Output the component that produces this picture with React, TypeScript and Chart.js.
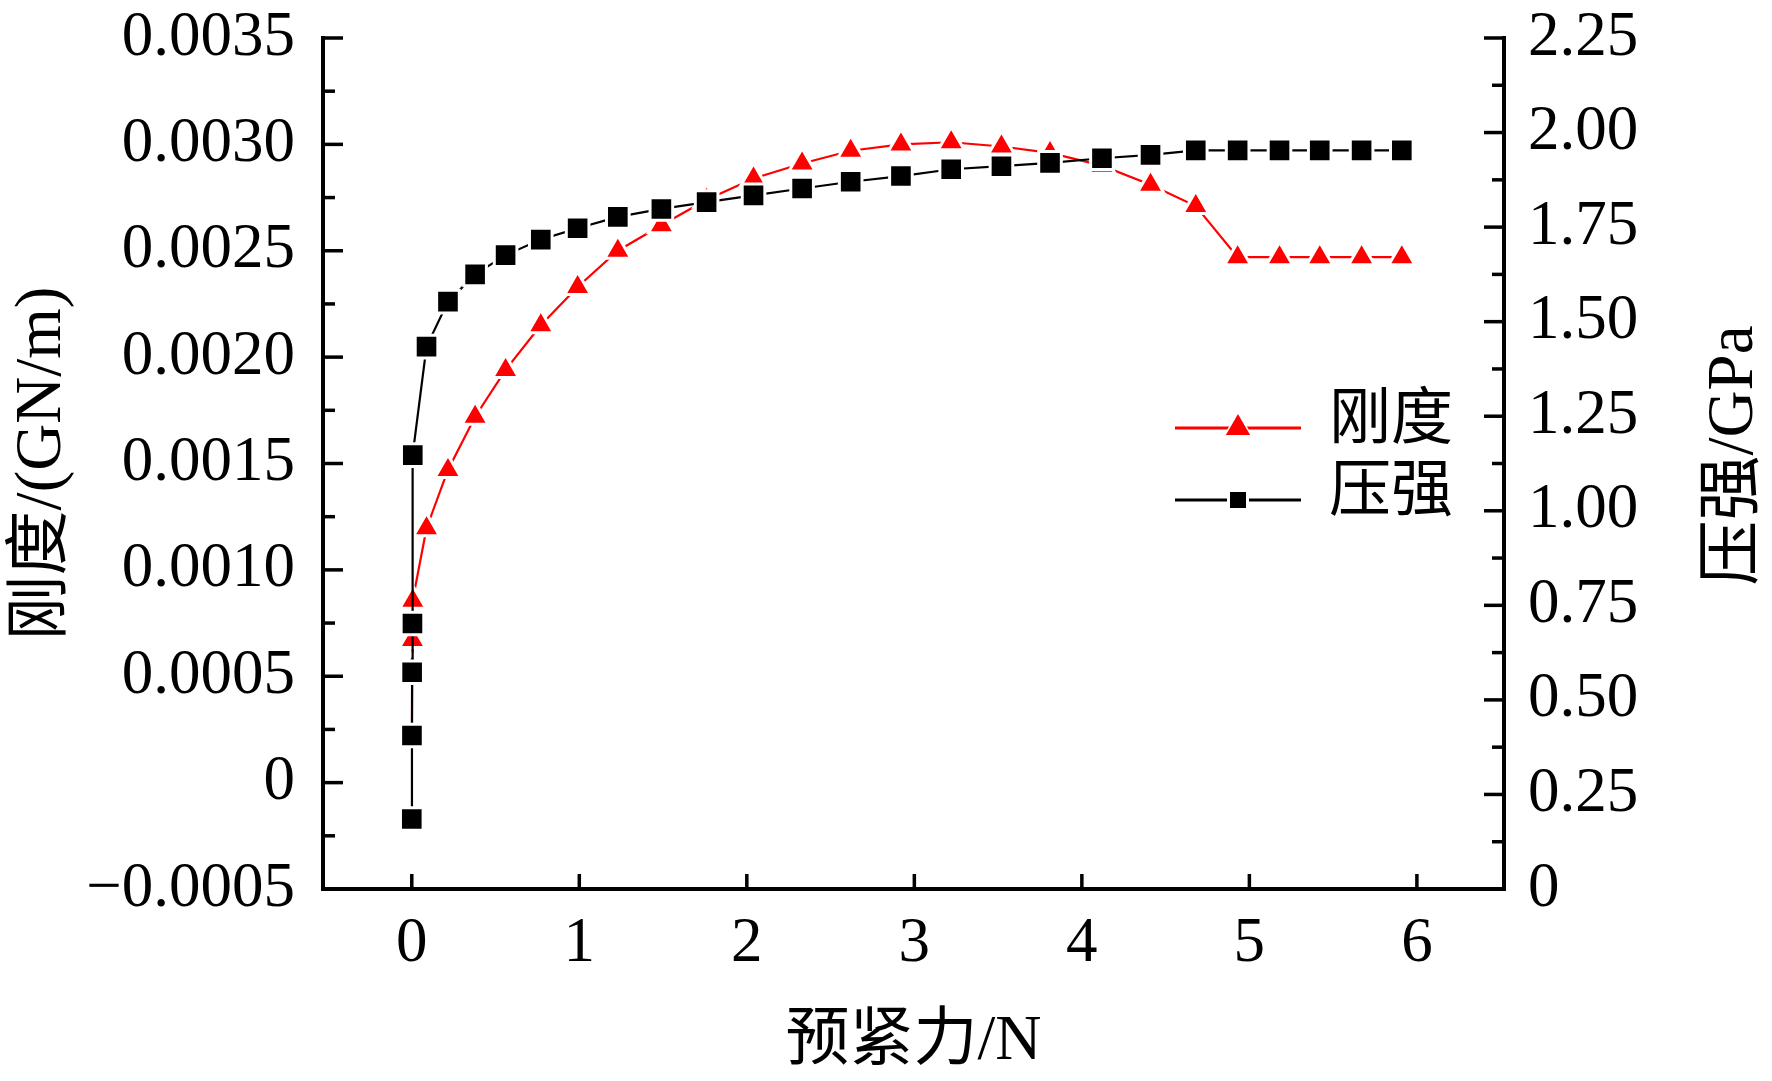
import React, { useEffect, useRef } from "react";
import { Chart, registerables } from "chart.js";

Chart.register(...registerables);

// preload force (N) on the x axis
const forceN = [
  0, 0.001, 0.002, 0.004, 0.006, 0.088, 0.216, 0.378, 0.56, 0.77, 0.99, 1.23, 1.49, 1.76, 2.04,
  2.33, 2.62, 2.92, 3.22, 3.52, 3.81, 4.12, 4.41, 4.68, 4.93, 5.18, 5.42, 5.67, 5.91,
];
// 刚度 (GN/m), left axis
const stiffness = [
  null, 0.000207, 0.000537, 0.00067, 0.000855, 0.001196, 0.00147, 0.00172, 0.00194, 0.00215,
  0.00233, 0.0025, 0.00262, 0.00274, 0.00284, 0.00291, 0.00297, 0.003, 0.00301, 0.00299,
  0.00296, 0.0029, 0.00281, 0.00271, 0.00247, 0.00247, 0.00247, 0.00247, 0.00247,
];
// 压强 (GPa), right axis
const pressure = [
  0.185, 0.406, 0.573, 0.702, 1.147, 1.434, 1.553, 1.625, 1.676, 1.717, 1.747, 1.777, 1.798,
  1.816, 1.834, 1.852, 1.87, 1.885, 1.903, 1.911, 1.92, 1.932, 1.941, 1.953, 1.953, 1.953,
  1.953, 1.953, 1.953,
];

const xTicks = [0, 1, 2, 3, 4, 5, 6];
const stiffnessTicks = [-0.0005, 0, 0.0005, 0.001, 0.0015, 0.002, 0.0025, 0.003, 0.0035];
const pressureTicks = [0, 0.25, 0.5, 0.75, 1, 1.25, 1.5, 1.75, 2, 2.25];

const SERIF = "'Liberation Serif', 'Times New Roman', 'Noto Sans CJK SC', serif";

const fmtStiff = (v: number) => (Math.abs(v) < 1e-12 ? "0" : (v < 0 ? "\u2212" : "") + Math.abs(v).toFixed(4));
const fmtPress = (v: number) => (Math.abs(v) < 1e-12 ? "0" : v.toFixed(2));

// inward major/minor ticks, the open axis frame and the right-hand title
const axisFrame = {
  id: "axisFrame",
  afterDraw(chart: any) {
    const { ctx, chartArea: a, scales } = chart;
    const line = (x1: number, y1: number, x2: number, y2: number) => {
      ctx.beginPath();
      ctx.moveTo(x1, y1);
      ctx.lineTo(x2, y2);
      ctx.stroke();
    };
    ctx.save();
    ctx.strokeStyle = "#000";
    ctx.lineWidth = 3.5;
    stiffnessTicks.forEach((v, i) => {
      const p = scales.y.getPixelForValue(v);
      line(a.left, p, a.left + 20, p);
      if (i < stiffnessTicks.length - 1) {
        const m = scales.y.getPixelForValue((v + stiffnessTicks[i + 1]) / 2);
        line(a.left, m, a.left + 12, m);
      }
    });
    pressureTicks.forEach((v, i) => {
      const p = scales.y1.getPixelForValue(v);
      line(a.right, p, a.right - 20, p);
      if (i < pressureTicks.length - 1) {
        const m = scales.y1.getPixelForValue((v + pressureTicks[i + 1]) / 2);
        line(a.right, m, a.right - 12, m);
      }
    });
    xTicks.forEach((v) => {
      const p = scales.x.getPixelForValue(v);
      line(p, a.bottom, p, a.bottom - 15);
    });
    ctx.lineWidth = 4;
    ctx.lineCap = "square";
    ctx.lineJoin = "miter";
    ctx.beginPath();
    ctx.moveTo(a.left, a.top);
    ctx.lineTo(a.left, a.bottom);
    ctx.lineTo(a.right, a.bottom);
    ctx.lineTo(a.right, a.top);
    ctx.stroke();

    ctx.fillStyle = "#000";
    ctx.font = `65px ${SERIF}`;
    ctx.textAlign = "center";
    ctx.textBaseline = "middle";
    ctx.translate(chart.width - 37, (a.top + a.bottom) / 2 - 8);
    ctx.rotate(-Math.PI / 2);
    ctx.fillText("压强/GPa", 0, 0);
    ctx.restore();
  },
};

const drawMarker = (ctx: any, style: string, x: number, y: number, r: number) => {
  ctx.beginPath();
  if (style === "triangle") {
    ctx.moveTo(x, y - r);
    ctx.lineTo(x + r * 0.866, y + r / 2);
    ctx.lineTo(x - r * 0.866, y + r / 2);
    ctx.closePath();
  } else {
    ctx.rect(x - r, y - r, 2 * r, 2 * r);
  }
  ctx.fill();
};

// legend inside the plot, to the right
const insideLegend = {
  id: "insideLegend",
  afterDraw(chart: any) {
    const { ctx } = chart;
    const rows = [
      { ds: chart.data.datasets[0], y: 428, size: 14 },
      { ds: chart.data.datasets[1], y: 500, size: 8 },
    ];
    ctx.save();
    rows.forEach(({ ds, y, size }) => {
      ctx.strokeStyle = ds.borderColor;
      ctx.lineWidth = 3;
      ctx.beginPath();
      ctx.moveTo(1175, y);
      ctx.lineTo(1301, y);
      ctx.stroke();
      ctx.fillStyle = "#fff";
      drawMarker(ctx, ds.pointStyle, 1238, y, size + 3);
      ctx.fillStyle = ds.borderColor;
      drawMarker(ctx, ds.pointStyle, 1238, y, size);
      ctx.fillStyle = "#000";
      ctx.font = `62px ${SERIF}`;
      ctx.textAlign = "left";
      ctx.textBaseline = "middle";
      ctx.fillText(ds.label, 1329, y - 5);
    });
    ctx.restore();
  },
};

const noPad = (s: any) => {
  s.paddingTop = 0;
  s.paddingBottom = 0;
  s.paddingLeft = 0;
  s.paddingRight = 0;
};

const StiffnessPressureChart = () => {
  const chartRef = useRef<HTMLCanvasElement>(null);
  const chartInstanceRef = useRef<Chart | null>(null);

  useEffect(() => {
    document.body.style.margin = "0";
    if (chartRef.current && !chartInstanceRef.current) {
      const context = chartRef.current.getContext("2d");
      if (context) {
        chartInstanceRef.current = new Chart(context, {
          type: "line",
          data: {
            datasets: [
              {
                label: "刚度",
                data: forceN.map((x, i) => ({ x, y: stiffness[i] })),
                yAxisID: "y",
                borderColor: "#FF0000",
                backgroundColor: "#FF0000",
                borderWidth: 2.2,
                pointStyle: "triangle",
                pointRadius: 15,
                pointBorderColor: "#FFFFFF",
                pointBorderWidth: 3,
                spanGaps: false,
                order: 1,
              },
              {
                label: "压强",
                data: forceN.map((x, i) => ({ x, y: pressure[i] })),
                yAxisID: "y1",
                borderColor: "#000000",
                backgroundColor: "#000000",
                borderWidth: 2.2,
                pointStyle: "rect",
                pointRadius: 16,
                pointBorderColor: "#FFFFFF",
                pointBorderWidth: 3,
                order: 0,
              },
            ],
          },
          options: {
            responsive: false,
            animation: false,
            layout: { padding: { top: 38, left: 0, right: 0, bottom: 0 } },
            scales: {
              x: {
                type: "linear",
                min: -0.53,
                max: 6.52,
                afterBuildTicks: (s: any) => {
                  s.ticks = xTicks.map((value) => ({ value }));
                },
                afterFit: (s: any) => {
                  s.height = 192;
                  noPad(s);
                },
                grid: { display: false },
                border: { display: false },
                ticks: {
                  color: "#000",
                  padding: 10,
                  font: { family: SERIF, size: 63 },
                },
                title: {
                  display: true,
                  text: "预紧力/N",
                  color: "#000",
                  padding: { top: 0, bottom: 0 },
                  font: { family: SERIF, size: 64 },
                },
              },
              y: {
                type: "linear",
                position: "left",
                min: -0.0005,
                max: 0.0035,
                afterBuildTicks: (s: any) => {
                  s.ticks = stiffnessTicks.map((value) => ({ value }));
                },
                afterFit: (s: any) => {
                  s.width = 323;
                  noPad(s);
                },
                grid: { display: false },
                border: { display: false },
                ticks: {
                  color: "#000",
                  padding: 20,
                  font: { family: SERIF, size: 63 },
                  callback: (v: any) => fmtStiff(Number(v)),
                },
                title: {
                  display: true,
                  text: "刚度/(GN/m)",
                  color: "#000",
                  padding: { top: 4, bottom: 0 },
                  font: { family: SERIF, size: 65 },
                },
              },
              y1: {
                type: "linear",
                position: "right",
                min: 0,
                max: 2.25,
                afterBuildTicks: (s: any) => {
                  s.ticks = pressureTicks.map((value) => ({ value }));
                },
                afterFit: (s: any) => {
                  s.width = 268;
                  noPad(s);
                },
                grid: { display: false },
                border: { display: false },
                ticks: {
                  color: "#000",
                  padding: 16,
                  font: { family: SERIF, size: 63 },
                  callback: (v: any) => fmtPress(Number(v)),
                },
              },
            },
            plugins: {
              legend: { display: false },
              tooltip: { enabled: false },
            },
          },
          plugins: [axisFrame, insideLegend],
        });
      }
    }
    return () => {
      if (chartInstanceRef.current) {
        chartInstanceRef.current.destroy();
        chartInstanceRef.current = null;
      }
    };
  }, []);

  return (
    <div style={{ width: 1772, height: 1081, background: "#fff" }}>
      <canvas ref={chartRef} width={1772} height={1081} />
    </div>
  );
};

export default function App() {
  return <StiffnessPressureChart />;
}
